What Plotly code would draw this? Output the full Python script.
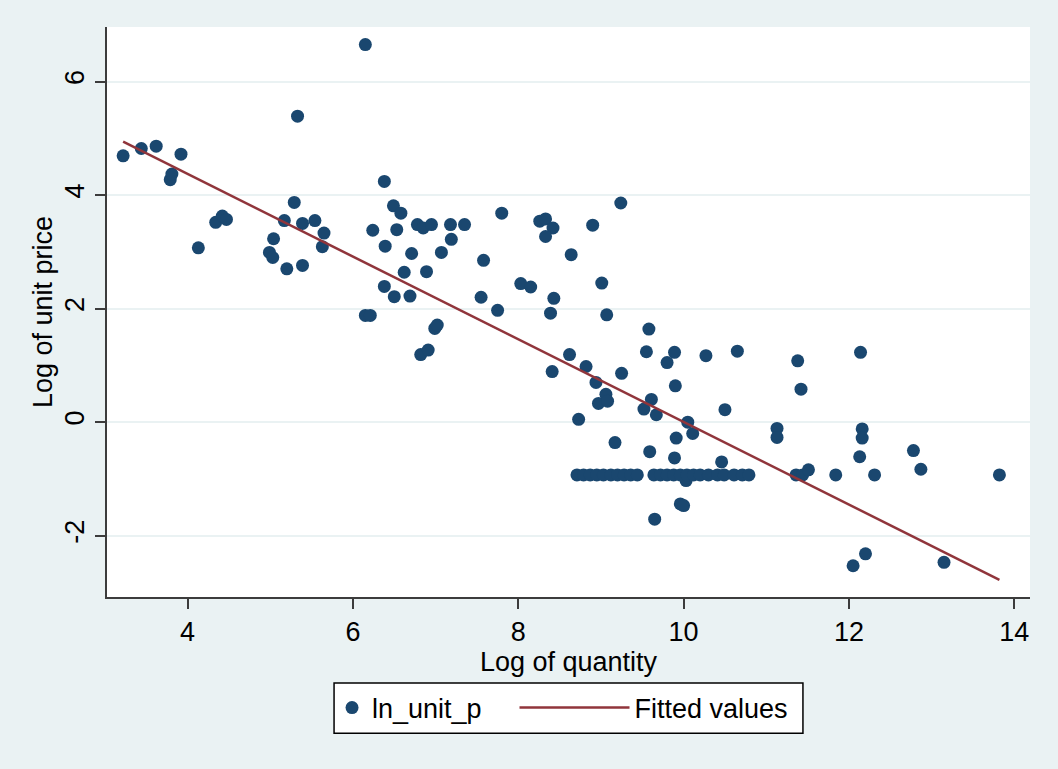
import numpy as np
import plotly.graph_objects as go

# Log of quantity (x) and log of unit price (y)
ln_quantity = [
    3.22, 3.44, 3.62, 3.92, 3.79, 3.81, 4.13, 4.34, 4.42, 4.47,
    4.99, 5.03, 5.04, 5.20, 5.17, 5.29, 5.33, 5.39, 5.39, 5.54, 5.63, 5.65,
    6.15, 6.38, 6.49, 6.58, 6.24, 6.53, 6.39, 6.78, 6.85, 6.95, 7.18, 7.35,
    7.19, 6.71, 7.07, 6.62, 6.89, 6.38, 6.50, 6.69, 6.15, 6.21, 6.99, 7.02,
    6.82, 6.91, 7.80, 7.58, 7.55, 7.75, 8.03, 8.15, 8.26, 8.33, 8.42, 8.33,
    8.64, 8.90, 8.43, 8.39, 8.62, 8.82, 8.41, 8.94,
    9.24, 9.01, 9.07, 9.58, 9.55, 9.89, 9.80, 10.27, 10.65, 9.90, 9.61, 9.52,
    9.67, 10.50, 10.05, 10.11, 9.91, 9.17, 9.59, 9.89, 10.46, 11.13, 11.13,
    9.06, 8.97, 9.08, 9.25, 8.73, 9.96, 10.00, 9.65, 10.03,
    8.71, 8.79, 8.87, 8.95, 9.03, 9.12, 9.20, 9.28, 9.36, 9.44,
    9.64, 9.72, 9.80, 9.88, 9.96, 10.04, 10.12, 10.20, 10.30, 10.41,
    10.49, 10.61, 10.71, 10.79,
    11.36, 11.44, 11.51, 11.38, 11.42, 12.14, 12.16, 12.16, 12.13, 11.84,
    12.31, 12.78, 12.87, 13.82, 12.05, 12.20, 13.15,
]
ln_unit_p = [
    4.69, 4.82, 4.86, 4.72, 4.27, 4.37, 3.07, 3.52, 3.63, 3.57,
    2.99, 2.90, 3.23, 2.70, 3.55, 3.87, 5.39, 3.50, 2.76, 3.55, 3.09, 3.33,
    6.65, 4.24, 3.81, 3.68, 3.38, 3.39, 3.10, 3.48, 3.42, 3.48, 3.48, 3.48,
    3.22, 2.97, 2.99, 2.64, 2.65, 2.39, 2.21, 2.22, 1.88, 1.88, 1.65, 1.71,
    1.19, 1.27, 3.68, 2.85, 2.20, 1.97, 2.44, 2.38, 3.54, 3.58, 3.42, 3.27,
    2.95, 3.47, 2.18, 1.92, 1.19, 0.98, 0.89, 0.70,
    3.86, 2.45, 1.89, 1.64, 1.24, 1.23, 1.05, 1.17, 1.25, 0.64, 0.40, 0.23,
    0.13, 0.22, 0.00, -0.20, -0.28, -0.36, -0.52, -0.63, -0.70, -0.11, -0.27,
    0.49, 0.33, 0.37, 0.86, 0.05, -1.44, -1.47, -1.71, -1.03,
    -0.93, -0.93, -0.93, -0.93, -0.93, -0.93, -0.93, -0.93, -0.93, -0.93,
    -0.93, -0.93, -0.93, -0.93, -0.93, -0.93, -0.93, -0.93, -0.93, -0.93,
    -0.93, -0.93, -0.93, -0.93,
    -0.93, -0.93, -0.84, 1.08, 0.58, 1.23, -0.12, -0.28, -0.61, -0.93,
    -0.93, -0.50, -0.83, -0.93, -2.53, -2.32, -2.47,
]

# Fitted regression line as shown in the reference (intercept, slope)
fit_intercept = 7.284
fit_slope = -0.728

x_ticks = [4, 6, 8, 10, 12, 14]
y_ticks = [-2, 0, 2, 4, 6]
y_tick_labels = ["-2", "0", "2", "4", "6"]

x = np.array(ln_quantity)
y = np.array(ln_unit_p)
x_fit = np.array([x.min(), x.max()])
y_fit = fit_intercept + fit_slope * x_fit

NAVY = "#1A476F"
MAROON = "#90353B"
BG = "#EAF2F3"
FONT = "Liberation Sans, Arial, sans-serif"
FS = 27

fig = go.Figure()
fig.add_trace(go.Scatter(
    x=x, y=y, mode="markers", name="ln_unit_p",
    marker=dict(size=13, color=NAVY, line=dict(width=0)),
    legend="legend",
))
fig.add_trace(go.Scatter(
    x=x_fit, y=y_fit, mode="lines", name="Fitted values",
    line=dict(color=MAROON, width=2.5),
    legend="legend2",
))

axis_common = dict(
    showline=True, linecolor="#3c3c3c", linewidth=2,
    ticks="outside", ticklen=10, tickwidth=1.5, tickcolor="#3c3c3c",
    tickfont=dict(size=FS, color="black", family=FONT),
    zeroline=False, mirror=False,
)
fig.update_xaxes(
    **axis_common, range=[3.025, 14.19], tickvals=x_ticks, showgrid=False,
    title=dict(text="Log of quantity", font=dict(size=FS, color="black", family=FONT), standoff=0),
)
fig.update_yaxes(
    **axis_common, range=[-3.08, 6.96], tickvals=y_ticks, ticktext=y_tick_labels,
    tickangle=-90, showgrid=True, gridcolor=BG, gridwidth=2,
    title=dict(text="Log of unit price", font=dict(size=FS, color="black", family=FONT), standoff=0),
)

leg_common = dict(
    orientation="h", xref="paper", yref="paper", xanchor="left",
    y=-0.1947, yanchor="middle", bgcolor="rgba(0,0,0,0)", borderwidth=0,
    font=dict(size=FS, color="black", family=FONT),
)
fig.update_layout(
    width=1058, height=769,
    margin=dict(l=107, r=28, t=27, b=172),
    paper_bgcolor=BG, plot_bgcolor="white",
    font=dict(family=FONT, size=FS, color="black"),
    showlegend=True,
    legend=dict(**leg_common, x=0.2438, itemwidth=30),
    legend2=dict(**leg_common, x=0.4415, itemwidth=110),
    shapes=[dict(
        type="rect", xref="paper", yref="paper",
        x0=0.246, x1=0.754, y0=-0.239, y1=-0.151,
        line=dict(color="black", width=1.5), fillcolor="white", layer="above",
    )],
)

fig.write_html(
    "out.html",
    config={"displayModeBar": False},
    post_script="document.body.style.margin='0';document.body.style.overflow='hidden';",
)
